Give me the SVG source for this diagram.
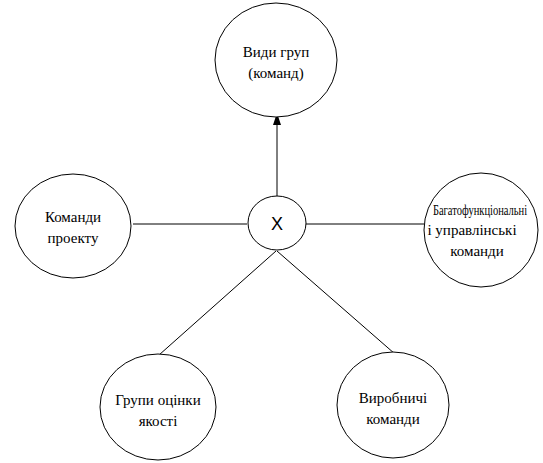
<svg xmlns="http://www.w3.org/2000/svg" width="543" height="463" viewBox="0 0 543 463">
<style>
.n{fill:#fff;stroke:#000;stroke-width:1}
.t{font-family:'Liberation Serif','DejaVu Serif','Times New Roman',serif;font-size:15px;fill:#000;text-anchor:middle}
.c{stroke:#000;stroke-width:1;fill:none}
</style>
<defs>
<marker id="a" markerWidth="12" markerHeight="8" refX="12" refY="4" orient="auto" markerUnits="userSpaceOnUse" viewBox="0 0 12 8">
<path d="M0 0 L12 4 L0 8 Z" fill="#000"/>
</marker>
</defs>
<rect width="543" height="463" fill="#fff"/>
<g id="connectors">
<line class="c" x1="277" y1="196" x2="277" y2="113" marker-end="url(#a)"/>
<line class="c" x1="133" y1="224" x2="247" y2="224"/>
<line class="c" x1="306" y1="224" x2="424" y2="224"/>
<line class="c" x1="276" y1="251" x2="159" y2="355"/>
<line class="c" x1="277" y1="251" x2="395" y2="354"/>
</g>
<g id="top">
<ellipse class="n" cx="276" cy="60" rx="61" ry="57"/>
<text class="t" x="276" y="57">Види груп</text>
<text class="t" x="276" y="78">(команд)</text>
</g>
<g id="left">
<ellipse class="n" cx="73" cy="226" rx="58" ry="52"/>
<text class="t" x="73" y="222">Команди</text>
<text class="t" x="73" y="243">проекту</text>
</g>
<g id="center">
<ellipse class="n" cx="277" cy="223" rx="29" ry="27"/>
<text font-family="Liberation Sans, Arial, sans-serif" font-size="18" text-anchor="middle" x="277" y="230">X</text>
</g>
<g id="right">
<ellipse class="n" cx="481" cy="230" rx="57" ry="57"/>
<text class="t" style="font-size:14px" transform="translate(480 215) scale(0.75 1)" x="0" y="0">Багатофункціональні</text>
<text class="t" x="472" y="235">і управлінські</text>
<text class="t" x="477" y="256">команди</text>
</g>
<g id="bottom-left">
<ellipse class="n" cx="158" cy="407" rx="58" ry="53"/>
<text class="t" x="158" y="405">Групи оцінки</text>
<text class="t" x="158" y="426">якості</text>
</g>
<g id="bottom-right">
<ellipse class="n" cx="393" cy="405" rx="56" ry="53"/>
<text class="t" x="393" y="403">Виробничі</text>
<text class="t" x="393" y="424">команди</text>
</g>
</svg>
